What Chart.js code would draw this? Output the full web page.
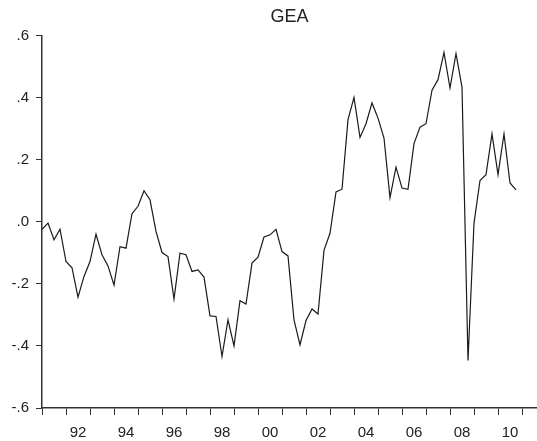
<!DOCTYPE html>
<html lang="en">
<head>
  <meta charset="UTF-8" />
  <title>GEA</title>
  <script src="https://cdn.jsdelivr.net/npm/chart.js"></script>
  <style>
    html, body { margin: 0; padding: 0; background: #fff; }
    #wrap { width: 537px; height: 441px; }
  </style>
</head>
<body>
  <div id="wrap"><canvas id="geaChart"></canvas></div>

  <script>
    // Quarterly series, 1991Q1 - 2010Q4
    const startYear = 1991;
    const gea = [
      -0.024, -0.004, -0.058, -0.024,  // 1991
      -0.128, -0.148, -0.243, -0.176,  // 1992
      -0.128, -0.040, -0.106, -0.142,  // 1993
      -0.204, -0.080, -0.085,  0.026,  // 1994
       0.050,  0.100,  0.071, -0.031,  // 1995
      -0.099, -0.112, -0.249, -0.101,  // 1996
      -0.106, -0.160, -0.155, -0.178,  // 1997
      -0.303, -0.305, -0.434, -0.316,  // 1998
      -0.400, -0.254, -0.265, -0.133,  // 1999
      -0.114, -0.049, -0.042, -0.024,  // 2000
      -0.096, -0.110, -0.316, -0.397,  // 2001
      -0.318, -0.281, -0.297, -0.092,  // 2002
      -0.037,  0.096,  0.105,  0.329,  // 2003
       0.401,  0.272,  0.316,  0.383,  // 2004
       0.334,  0.270,  0.078,  0.176,  // 2005
       0.109,  0.105,  0.252,  0.305,  // 2006
       0.316,  0.424,  0.458,  0.546,  // 2007
       0.431,  0.542,  0.434, -0.447,  // 2008
      -0.004,  0.133,  0.152,  0.283,  // 2009
       0.152,  0.283,  0.125,  0.103   // 2010
    ];

    // Axis ticks
    const xTickYears = [1991, 1992, 1993, 1994, 1995, 1996, 1997, 1998, 1999, 2000,
                        2001, 2002, 2003, 2004, 2005, 2006, 2007, 2008, 2009, 2010, 2011];
    const xLabelYears = [1992, 1994, 1996, 1998, 2000, 2002, 2004, 2006, 2008, 2010];
    const xTickLabels = ['92', '94', '96', '98', '00', '02', '04', '06', '08', '10'];
    const yTicks = [-0.6, -0.4, -0.2, 0, 0.2, 0.4, 0.6];
    const yTickLabels = ['-.6', '-.4', '-.2', '.0', '.2', '.4', '.6'];

    const points = gea.map((v, i) => ({ x: startYear + i / 4, y: v }));

    Chart.defaults.font.family = "'Liberation Sans', Arial, sans-serif";
    Chart.defaults.color = '#222';

    const axisColor = '#333';

    new Chart(document.getElementById('geaChart'), {
      type: 'line',
      data: {
        datasets: [{
          label: 'GEA',
          data: points,
          borderColor: '#1a1a1a',
          borderWidth: 1.2,
          pointRadius: 0,
          tension: 0,
          fill: false
        }]
      },
      options: {
        responsive: true,
        maintainAspectRatio: false,
        animation: false,
        layout: { padding: 0 },
        plugins: {
          legend: { display: false },
          tooltip: { enabled: false },
          title: {
            display: true,
            text: 'GEA',
            fullSize: false,
            color: '#222',
            font: { size: 18, weight: 'normal' },
            padding: { top: 6, bottom: 8 }
          }
        },
        scales: {
          x: {
            type: 'linear',
            min: 1991,
            max: 2011.625,
            afterBuildTicks: (scale) => {
              scale.ticks = xTickYears.map(v => ({ value: v }));
            },
            afterFit: (scale) => { scale.height = 33; },
            border: { display: true, color: axisColor, width: 1.5 },
            grid: {
              display: true,
              drawOnChartArea: false,
              drawTicks: true,
              tickLength: 7,
              color: axisColor,
              lineWidth: 1
            },
            ticks: {
              autoSkip: false,
              maxRotation: 0,
              labelOffset: 12,
              padding: 9,
              font: { size: 15 },
              color: '#222',
              callback: (v) => {
                const k = xLabelYears.indexOf(Math.round(v));
                return k >= 0 ? xTickLabels[k] : '';
              }
            }
          },
          y: {
            min: -0.6,
            max: 0.6,
            afterBuildTicks: (scale) => {
              scale.ticks = yTicks.map(v => ({ value: v }));
            },
            afterFit: (scale) => { scale.width = 42; },
            border: { display: true, color: axisColor, width: 1.5 },
            grid: {
              display: true,
              drawOnChartArea: false,
              drawTicks: true,
              tickLength: 6,
              color: axisColor,
              lineWidth: 1
            },
            ticks: {
              padding: 7,
              font: { size: 15 },
              color: '#222',
              callback: (v) => {
                const k = yTicks.findIndex(t => Math.abs(t - v) < 1e-9);
                return k >= 0 ? yTickLabels[k] : '';
              }
            }
          }
        }
      }
    });
  </script>
</body>
</html>
